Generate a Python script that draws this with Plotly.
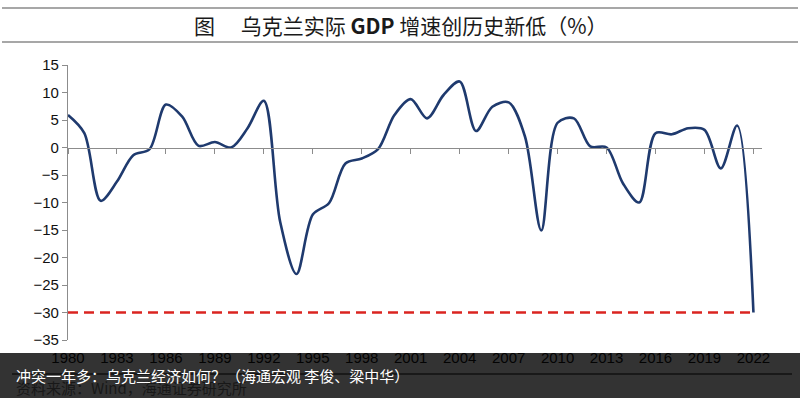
import plotly.graph_objects as go

years = list(range(1980, 2023))
gdp_growth = [5.9, 2.6, -9.7, -6.2, -1.4, -0.3, 7.8, 5.6, 0.3, 1.0,
              0.0, 3.5, 8.5, -13.5, -23.0, -12.2, -10.1, -2.9, -2.0, -0.3,
              5.9, 8.8, 5.3, 9.5, 12.0, 3.0, 7.4, 8.2, 2.0, -15.1,
              4.5, 5.3, 0.2, 0.0, -6.5, -10.0, 2.6, 2.4, 3.5, 3.2,
              -3.8, 4.0, -30.0]
record_low = [-30.0] * len(years)
tick_years = list(range(1980, 2023, 3))
tick_labels = [str(y) for y in tick_years]
y_ticks = list(range(-35, 20, 5))

title_text = "图　 乌克兰实际 <b>GDP</b> 增速创历史新低（%）"
source_text = "资料来源：Wind，海通证券研究所"
overlay_text = "冲突一年多：乌克兰经济如何？（海通宏观 李俊、梁中华）"

W, H = 800, 398
L, R, T, B = 68, 38, 65, 58
PW, PH = W - L - R, H - T - B
px_per_year = 16.32
x_range = [1980, 1980 + PW / px_per_year]


def px_x(p):
    return (p - L) / PW


def px_y(p):
    return (H - B - p) / PH


fig = go.Figure()

fig.add_trace(go.Scatter(
    x=years, y=record_low, mode="lines", xaxis="x2", yaxis="y",
    line=dict(color="#DA2420", width=2.6, dash="10px,6px"),
    hoverinfo="skip", showlegend=False))

fig.add_trace(go.Scatter(
    x=years, y=gdp_growth, mode="lines",
    line=dict(color="#1F3A6E", width=2.6, shape="spline", smoothing=0.9),
    showlegend=False))

axis_font = dict(family="Liberation Sans, Arial, sans-serif", size=15, color="#111111")

fig.update_layout(
    width=W, height=H,
    margin=dict(l=L, r=R, t=T, b=B, pad=0),
    paper_bgcolor="white", plot_bgcolor="white",
    showlegend=False,
    xaxis=dict(range=x_range, tickmode="array", tickvals=tick_years, ticktext=tick_labels,
               ticks="", showline=False, showgrid=False, zeroline=False,
               tickfont=axis_font, ticklabelstandoff=7),
    xaxis2=dict(range=x_range, overlaying="x", anchor="free", position=0.7,
                tickmode="array", tickvals=tick_years, showticklabels=False,
                ticks="outside", ticklen=5, tickcolor="#8C8C8C", tickwidth=1,
                showline=True, linecolor="#8C8C8C", linewidth=1.2,
                showgrid=False, zeroline=False),
    yaxis=dict(range=[-35, 15], tickmode="array", tickvals=y_ticks,
               ticks="outside", ticklen=5, tickcolor="#8C8C8C",
               showline=True, linecolor="#8C8C8C", linewidth=1.2,
               showgrid=False, zeroline=False, tickfont=axis_font),
)

shapes = [
    dict(type="line", xref="paper", yref="paper", x0=px_x(2), x1=px_x(798),
         y0=px_y(8), y1=px_y(8), line=dict(color="#8A8A8A", width=1.5)),
    dict(type="line", xref="paper", yref="paper", x0=px_x(2), x1=px_x(798),
         y0=px_y(42), y1=px_y(42), line=dict(color="#8A8A8A", width=1.5)),
    dict(type="line", xref="paper", yref="paper", x0=px_x(12), x1=px_x(792),
         y0=px_y(374), y1=px_y(374), line=dict(color="#000000", width=1.2)),
    dict(type="rect", xref="paper", yref="paper", x0=px_x(0), x1=px_x(800),
         y0=px_y(353), y1=px_y(398), fillcolor="rgba(0,0,0,0.80)",
         line=dict(width=0), layer="above"),
]
fig.update_layout(shapes=shapes)

fig.update_layout(annotations=[
    dict(text=title_text, xref="paper", yref="paper", x=px_x(401), y=px_y(25),
         xanchor="center", yanchor="middle", showarrow=False,
         font=dict(family="Noto Sans CJK SC, Liberation Sans, sans-serif", size=21, color="#1A1A1A")),
    dict(text=source_text, xref="paper", yref="paper", x=px_x(14), y=px_y(387),
         xanchor="left", yanchor="middle", showarrow=False,
         font=dict(family="Noto Sans CJK SC, Liberation Sans, sans-serif", size=15, color="#181818")),
    dict(text=overlay_text, xref="paper", yref="paper", x=px_x(14), y=px_y(375),
         xanchor="left", yanchor="middle", showarrow=False,
         font=dict(family="Noto Sans CJK SC, sans-serif", size=15, color="#FFFFFF")),
])

fig.write_html("out.html", config={"displayModeBar": False},
               post_script="document.body.style.margin='0';document.body.style.overflow='hidden';")
